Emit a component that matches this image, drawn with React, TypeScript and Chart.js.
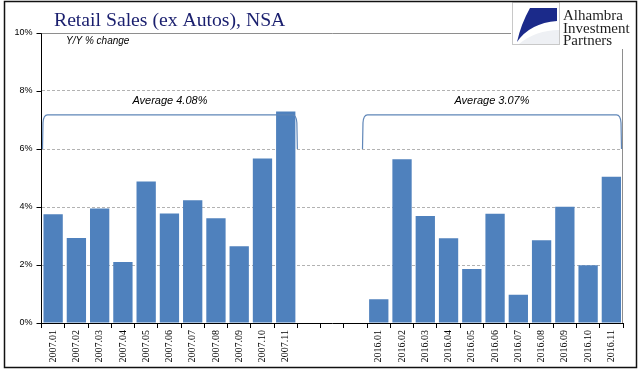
import React, { useEffect, useRef } from 'react';
import { Chart, registerables } from 'chart.js';

Chart.register(...registerables);

const labels2007 = ['2007.01', '2007.02', '2007.03', '2007.04', '2007.05', '2007.06', '2007.07', '2007.08', '2007.09', '2007.10', '2007.11'];
const labels2016 = ['2016.01', '2016.02', '2016.03', '2016.04', '2016.05', '2016.06', '2016.07', '2016.08', '2016.09', '2016.10', '2016.11'];
const gapLabels = ['', '', ''];
const values2007 = [3.75, 2.93, 3.95, 2.1, 4.88, 3.78, 4.23, 3.61, 2.65, 5.67, 7.29];
const values2016 = [0.82, 5.65, 3.69, 2.92, 1.86, 3.77, 0.97, 2.85, 4.01, 1.99, 5.04];
const yTicks = [0, 2, 4, 6, 8, 10];
const averageLabels = ['Average 4.08%', 'Average 3.07%'];
const titleText = 'Retail Sales (ex Autos), NSA';
const subtitleText = 'Y/Y % change';
const logoLines = ['Alhambra', 'Investment', 'Partners'];

const categories = [...labels2007, ...gapLabels, ...labels2016];
const seriesValues = [...values2007, ...gapLabels.map(() => null), ...values2016];

const decorPlugin = {
  id: 'decor',
  afterDraw(chart: any) {
    const { ctx, chartArea: a, scales } = chart;
    const xs = scales.x;
    const ys = scales.y;
    const catW = xs.getPixelForValue(1) - xs.getPixelForValue(0);
    const edge = (i: number) => xs.getPixelForValue(0) - catW / 2 + i * catW;
    ctx.save();

    // plot border (top and right)
    ctx.strokeStyle = '#8E8E8E';
    ctx.lineWidth = 1;
    ctx.beginPath();
    const yTop = Math.round(ys.getPixelForValue(10)) + 0.5;
    ctx.moveTo(a.left, yTop);
    ctx.lineTo(a.right, yTop);
    ctx.moveTo(Math.round(a.right) - 0.5, yTop);
    ctx.lineTo(Math.round(a.right) - 0.5, a.bottom);
    ctx.stroke();

    // y tick marks
    ctx.strokeStyle = '#000';
    ctx.beginPath();
    for (const t of yTicks) {
      const py = Math.round(ys.getPixelForValue(t)) + 0.5;
      ctx.moveTo(a.left - 5, py);
      ctx.lineTo(a.left, py);
    }
    ctx.stroke();

    // braces
    const braceTop = ys.getPixelForValue(7.18);
    const braceBot = ys.getPixelForValue(6.0);
    const drawBrace = (x1: number, x2: number) => {
      ctx.beginPath();
      ctx.moveTo(x1, braceBot);
      ctx.lineTo(x1 + 0.5, braceTop + 8);
      ctx.quadraticCurveTo(x1 + 1, braceTop, x1 + 5, braceTop);
      ctx.lineTo(x2 - 5, braceTop);
      ctx.quadraticCurveTo(x2 - 1, braceTop, x2 - 0.5, braceTop + 8);
      ctx.lineTo(x2, braceBot);
      ctx.stroke();
    };
    ctx.strokeStyle = '#5F86B8';
    ctx.lineWidth = 1.2;
    const b1 = [edge(0) + 1, edge(labels2007.length)];
    const start2 = labels2007.length + gapLabels.length;
    const b2 = [edge(start2) - 0.2 * catW, edge(categories.length) - 1.5];
    drawBrace(b1[0], b1[1]);
    drawBrace(b2[0], b2[1]);

    ctx.fillStyle = '#000';
    ctx.font = 'italic 11px "Liberation Sans"';
    ctx.textAlign = 'center';
    ctx.textBaseline = 'middle';
    const ty = ys.getPixelForValue(7.67);
    ctx.fillText(averageLabels[0], (b1[0] + b1[1]) / 2, ty);
    ctx.fillText(averageLabels[1], (b2[0] + b2[1]) / 2, ty);

    // subtitle
    ctx.textAlign = 'left';
    ctx.font = 'italic 10px "Liberation Sans"';
    ctx.fillText(subtitleText, 66, 41);

    // title
    ctx.fillStyle = '#1A1F6E';
    ctx.font = '19.7px "Liberation Serif"';
    ctx.textBaseline = 'alphabetic';
    ctx.fillText(titleText, 54, 26);

    // logo box
    ctx.fillStyle = '#fff';
    ctx.fillRect(511, 3, 124, 46);
    ctx.strokeStyle = '#C8C8C8';
    ctx.lineWidth = 1;
    ctx.strokeRect(512.5, 2.5, 47, 42);
    ctx.fillStyle = '#EEF0F4';
    ctx.beginPath();
    ctx.moveTo(519, 44);
    ctx.quadraticCurveTo(536, 30, 559, 30);
    ctx.lineTo(559, 44);
    ctx.closePath();
    ctx.fill();
    ctx.fillStyle = '#1B2A8A';
    ctx.beginPath();
    ctx.moveTo(530, 8);
    ctx.lineTo(557, 8);
    ctx.lineTo(557, 21);
    ctx.quadraticCurveTo(530, 23, 517, 42);
    ctx.quadraticCurveTo(521, 24, 530, 8);
    ctx.closePath();
    ctx.fill();
    ctx.fillStyle = '#1F1F1F';
    ctx.font = '15px "Liberation Serif"';
    ctx.textAlign = 'left';
    logoLines.forEach((s, i) => ctx.fillText(s, 563, 20 + i * 12.5));

    // outer frame
    ctx.strokeStyle = '#111';
    ctx.lineWidth = 1.5;
    ctx.strokeRect(4.5, 1.5, 632, 366);
    ctx.restore();
  },
};

export default function App() {
  const canvasRef = useRef<HTMLCanvasElement | null>(null);

  useEffect(() => {
    if (!canvasRef.current) return;
    const chart = new Chart(canvasRef.current, {
      type: 'bar',
      data: {
        labels: categories,
        datasets: [
          {
            data: seriesValues as any,
            backgroundColor: '#4F81BD',
            borderWidth: 0,
            barPercentage: 0.83,
            categoryPercentage: 1,
          },
        ],
      },
      options: {
        responsive: false,
        animation: false,
        devicePixelRatio: 1,
        layout: { padding: { top: 33, right: 18, left: 0, bottom: 0 } },
        plugins: { legend: { display: false }, tooltip: { enabled: false }, title: { display: false } },
        scales: {
          x: {
            offset: true,
            grid: { offset: true, drawOnChartArea: false, drawTicks: true, tickLength: 5, color: '#000', lineWidth: 1 },
            border: { display: true, color: '#000', width: 1 },
            ticks: {
              autoSkip: false,
              minRotation: 90,
              maxRotation: 90,
              padding: 2,
              color: '#000',
              font: { family: '"Liberation Serif"', size: 10 },
            },
            afterFit: (s: any) => {
              s.height = 52;
            },
          },
          y: {
            min: 0,
            max: 10,
            grid: {
              drawTicks: false,
              color: (c: any) => (c.tick && (c.tick.value === 0 || c.tick.value === 10) ? 'rgba(0,0,0,0)' : '#B2B2B2'),
              lineWidth: 1,
            },
            border: { display: true, color: '#000', width: 1, dash: [3, 2] },
            ticks: {
              stepSize: 2,
              padding: 9,
              color: '#000',
              font: { family: '"Liberation Sans"', size: 9 },
              callback: (v: any) => `${v}%`,
            },
            afterFit: (s: any) => {
              s.width = 41.5;
            },
          },
        },
      },
      plugins: [decorPlugin],
    });
    return () => chart.destroy();
  }, []);

  return (
    <div style={{ position: 'fixed', left: 0, top: 0, width: 641, height: 375, background: '#fff' }}>
      <canvas ref={canvasRef} width={641} height={375} style={{ width: 641, height: 375, display: 'block' }} />
    </div>
  );
}
